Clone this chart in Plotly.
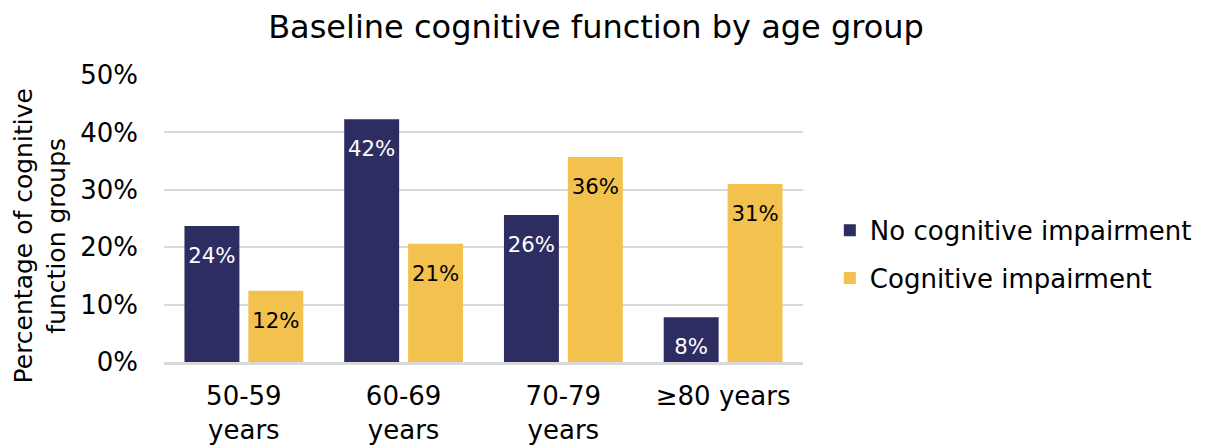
import plotly.graph_objects as go

categories = ["50-59<br>years", "60-69<br>years", "70-79<br>years", "≥80 years"]
no_impairment = [23.7, 42.3, 25.6, 7.8]
impairment = [12.4, 20.6, 35.7, 31.0]
series_names = ["No cognitive impairment", "Cognitive impairment"]
tick_vals = [0, 10, 20, 30, 40, 50]
tick_text = ["0%", "10%", "20%", "30%", "40%", "50%"]
y_title = "Percentage of cognitive<br>function groups"
chart_title = "Baseline cognitive function by age group"

FONT = "DejaVu Sans, Verdana, sans-serif"
NAVY = "#2E2D62"
GOLD = "#F2C14E"
LABEL_TPL = "<span style='font-size:8px'>&nbsp;</span><br>%{y:.0f}%"

fig = go.Figure()
fig.add_trace(go.Bar(
    x=categories, y=no_impairment, name=series_names[0], legendgroup="a",
    marker=dict(color=NAVY, line=dict(width=0)),
    texttemplate=LABEL_TPL, textposition="inside", insidetextanchor="end",
    textfont=dict(color="white", size=23, family=FONT),
    textangle=0,
))
fig.add_trace(go.Bar(
    x=categories, y=impairment, name=series_names[1], legendgroup="b",
    marker=dict(color=GOLD, line=dict(width=0)),
    texttemplate=LABEL_TPL, textposition="inside", insidetextanchor="end",
    textfont=dict(color="black", size=23, family=FONT),
    textangle=0,
))

# page has an 8px body margin, so the figure is placed at (8, 8)
fig.update_layout(
    width=1201, height=438,
    paper_bgcolor="white", plot_bgcolor="white",
    font=dict(family=FONT, size=26, color="black"),
    title=dict(text=chart_title, x=0.4896, xanchor="center", xref="container",
               y=0.9566, yref="container", yanchor="middle",
               font=dict(size=32, family=FONT)),
    margin=dict(l=156, r=404, t=67, b=84),
    barmode="group", bargap=0.2, bargroupgap=0.14,
    uniformtext=dict(minsize=8, mode="show"),
    legend=dict(x=1.042, xanchor="left", y=0.375, yanchor="middle",
                font=dict(size=26, family=FONT), itemsizing="constant",
                tracegroupgap=11, bgcolor="rgba(0,0,0,0)"),
    showlegend=True,
    annotations=[dict(text=y_title, xref="paper", yref="paper", x=-0.1934, y=0.439,
                      xanchor="center", yanchor="middle", textangle=-90, showarrow=False,
                      font=dict(size=25, family=FONT, color="black"))],
)
fig.update_xaxes(showgrid=False, showline=True, linecolor="#D9D9D9", linewidth=2.5,
                 tickfont=dict(size=26, family=FONT), ticks="", automargin=False,
                 ticklabelstandoff=9)
fig.update_yaxes(range=[0, 50], tickvals=tick_vals, ticktext=tick_text,
                 showgrid=True, gridcolor="#D9D9D9", gridwidth=1.5, zeroline=False,
                 tickfont=dict(size=26, family=FONT), ticks="", automargin=False,
                 ticklabelstandoff=25)

fig.write_html("out.html")
